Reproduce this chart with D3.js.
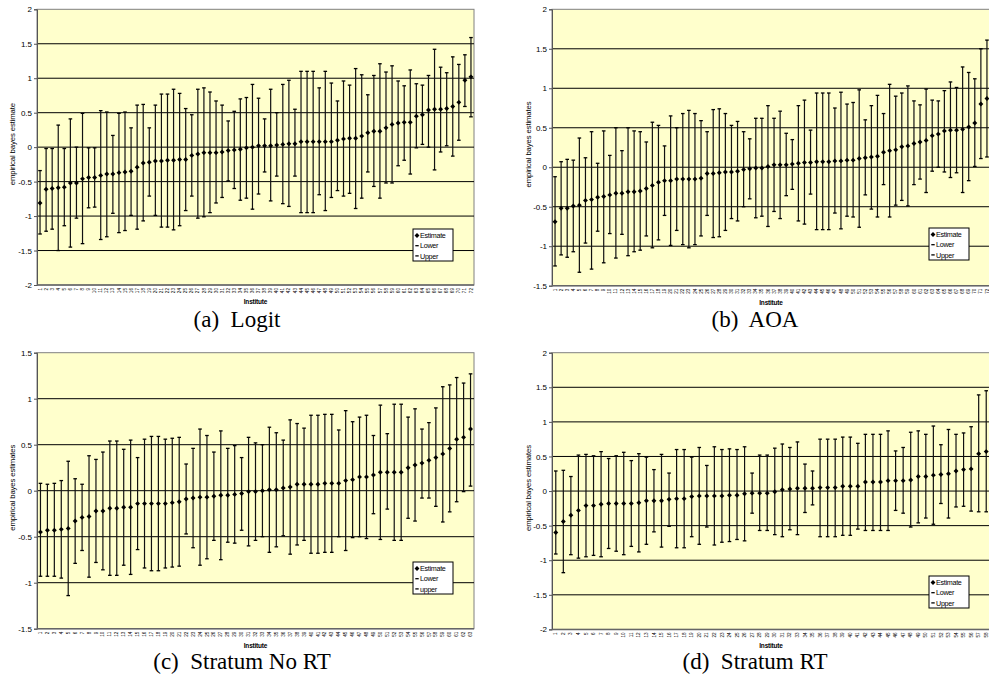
<!DOCTYPE html>
<html>
<head>
<meta charset="utf-8">
<script src="https://cdn.jsdelivr.net/npm/d3@7"></script>
<style>
  body { margin: 0; background: #fff; }
  svg { display: block; }
</style>
</head>
<body>
<svg id="chart" width="989" height="680"></svg>
<script>
// ---- (a) Logit ----
const logitInst = d3.range(1, 73).map(String);
const logitEst = [-0.81,-0.61,-0.60,-0.59,-0.58,-0.52,-0.52,-0.46,-0.44,-0.44,-0.41,-0.39,-0.39,-0.37,-0.36,-0.35,-0.29,-0.23,-0.22,-0.20,-0.20,-0.19,-0.19,-0.18,-0.18,-0.12,-0.10,-0.08,-0.08,-0.08,-0.07,-0.05,-0.04,-0.03,-0.01,0.00,0.02,0.02,0.02,0.03,0.04,0.05,0.05,0.08,0.08,0.08,0.08,0.08,0.08,0.10,0.12,0.13,0.13,0.16,0.21,0.23,0.23,0.28,0.33,0.35,0.36,0.36,0.45,0.47,0.54,0.55,0.55,0.56,0.59,0.65,0.97,1.02];
const logitUpper = [-0.34,-0.02,-0.02,0.32,-0.02,0.41,0.00,0.49,-0.01,-0.01,0.53,0.51,0.17,0.49,0.51,0.28,0.61,0.62,0.28,0.61,0.77,0.77,0.84,0.78,0.56,0.47,0.84,0.86,0.80,0.67,0.61,0.38,0.52,0.70,0.72,0.91,0.71,0.41,0.84,0.50,0.91,0.97,0.55,1.10,1.10,1.10,0.86,1.10,0.93,0.67,0.96,0.90,1.14,1.05,0.76,1.04,1.21,1.09,1.18,0.96,0.89,1.12,0.92,0.90,1.04,1.42,1.16,1.08,1.31,1.20,1.34,1.59];
const logitLower = [-1.26,-1.22,-1.19,-1.50,-1.14,-1.45,-1.03,-1.40,-0.88,-0.87,-1.34,-1.30,-0.96,-1.24,-1.21,-0.99,-1.19,-1.07,-0.71,-0.99,-1.16,-1.16,-1.20,-1.14,-0.92,-0.71,-1.03,-1.01,-0.95,-0.81,-0.73,-0.49,-0.60,-0.77,-0.74,-0.90,-0.68,-0.36,-0.78,-0.42,-0.82,-0.86,-0.42,-0.95,-0.95,-0.95,-0.69,-0.92,-0.73,-0.63,-0.71,-0.67,-0.89,-0.74,-0.36,-0.57,-0.74,-0.52,-0.52,-0.27,-0.19,-0.39,-0.01,0.04,0.00,-0.33,-0.07,0.02,-0.13,0.10,0.59,0.44];

// ---- (b) AOA ----
const aoaInst = d3.range(1, 73).map(String);
const aoaEst = [-0.69,-0.52,-0.52,-0.49,-0.48,-0.42,-0.41,-0.38,-0.37,-0.35,-0.33,-0.33,-0.31,-0.31,-0.30,-0.27,-0.23,-0.19,-0.17,-0.17,-0.15,-0.15,-0.15,-0.15,-0.14,-0.08,-0.08,-0.07,-0.06,-0.06,-0.05,-0.03,-0.02,-0.01,-0.01,0.01,0.03,0.03,0.03,0.04,0.05,0.06,0.06,0.07,0.07,0.07,0.08,0.08,0.09,0.09,0.11,0.12,0.13,0.14,0.19,0.21,0.22,0.26,0.27,0.30,0.32,0.34,0.40,0.42,0.46,0.47,0.47,0.48,0.51,0.56,0.80,0.87];
const aoaUpper = [-0.12,0.07,0.10,0.09,0.37,0.12,0.45,0.05,0.46,0.15,0.50,0.21,0.50,0.46,0.45,0.32,0.57,0.53,0.27,0.65,0.50,0.68,0.72,0.68,0.59,0.45,0.73,0.74,0.68,0.53,0.58,0.45,0.36,0.62,0.62,0.78,0.62,0.71,0.43,0.35,0.78,0.85,0.47,0.94,0.94,0.94,0.75,0.95,0.80,0.82,0.98,0.60,0.78,0.91,0.68,1.05,0.90,0.94,1.03,0.84,0.79,0.99,0.85,0.84,0.97,1.08,1.01,1.27,1.20,1.12,1.50,1.61];
const aoaLower = [-1.25,-1.11,-1.14,-1.07,-1.33,-0.96,-1.29,-0.81,-1.21,-0.84,-1.15,-0.85,-1.12,-1.07,-1.05,-0.87,-1.02,-0.92,-0.61,-0.99,-0.80,-0.98,-1.02,-0.98,-0.87,-0.61,-0.89,-0.88,-0.80,-0.65,-0.68,-0.50,-0.40,-0.64,-0.62,-0.75,-0.56,-0.65,-0.36,-0.28,-0.68,-0.72,-0.34,-0.79,-0.79,-0.79,-0.58,-0.78,-0.62,-0.63,-0.76,-0.35,-0.53,-0.63,-0.22,-0.63,-0.48,-0.42,-0.49,-0.22,-0.15,-0.32,-0.05,0.00,-0.06,-0.13,-0.07,-0.32,-0.17,0.01,0.11,0.13];

// ---- (c) Stratum No RT ----
const noRtInst = d3.range(1, 64).map(String);
const noRtEst = [-0.45,-0.43,-0.43,-0.42,-0.41,-0.33,-0.29,-0.28,-0.22,-0.22,-0.19,-0.19,-0.18,-0.18,-0.14,-0.14,-0.14,-0.14,-0.14,-0.13,-0.12,-0.09,-0.08,-0.07,-0.07,-0.06,-0.05,-0.05,-0.04,-0.03,-0.01,-0.01,0.00,0.01,0.01,0.03,0.04,0.07,0.07,0.07,0.07,0.08,0.08,0.08,0.11,0.12,0.15,0.15,0.17,0.20,0.20,0.20,0.20,0.25,0.28,0.30,0.33,0.36,0.40,0.46,0.56,0.58,0.67];
const noRtUpper = [0.08,0.07,0.08,0.11,0.32,0.13,0.07,0.38,0.34,0.42,0.54,0.54,0.45,0.55,0.36,0.56,0.59,0.59,0.56,0.57,0.58,0.29,0.46,0.67,0.60,0.42,0.65,0.46,0.49,0.36,0.58,0.52,0.50,0.69,0.63,0.55,0.77,0.73,0.68,0.82,0.82,0.83,0.83,0.66,0.87,0.75,0.80,0.82,0.60,0.93,0.62,0.94,0.94,0.80,0.89,0.67,0.74,0.90,1.13,1.15,1.23,1.17,1.27];
const noRtLower = [-0.93,-0.93,-0.93,-0.95,-1.14,-0.79,-0.65,-0.94,-0.78,-0.86,-0.92,-0.92,-0.81,-0.91,-0.64,-0.84,-0.87,-0.87,-0.84,-0.83,-0.82,-0.47,-0.62,-0.81,-0.74,-0.54,-0.75,-0.56,-0.57,-0.43,-0.60,-0.54,-0.50,-0.67,-0.61,-0.49,-0.69,-0.59,-0.54,-0.68,-0.68,-0.67,-0.67,-0.50,-0.65,-0.51,-0.50,-0.52,-0.25,-0.53,-0.20,-0.54,-0.54,-0.30,-0.33,-0.08,-0.08,-0.17,-0.34,-0.23,-0.12,-0.01,0.05];

// ---- (d) Stratum RT ----
const rtInst = d3.range(1, 59).map(String);
const rtEst = [-0.60,-0.44,-0.35,-0.28,-0.21,-0.21,-0.19,-0.18,-0.18,-0.18,-0.18,-0.17,-0.14,-0.14,-0.14,-0.12,-0.11,-0.11,-0.08,-0.07,-0.07,-0.07,-0.07,-0.06,-0.06,-0.04,-0.03,-0.03,-0.03,-0.01,0.02,0.03,0.04,0.04,0.04,0.05,0.05,0.05,0.07,0.07,0.07,0.13,0.13,0.13,0.15,0.15,0.15,0.16,0.21,0.21,0.23,0.24,0.25,0.29,0.31,0.32,0.54,0.57];
const rtUpper = [0.29,0.30,0.21,0.52,0.53,0.51,0.57,0.47,0.51,0.56,0.44,0.54,0.49,0.31,0.53,0.26,0.60,0.60,0.49,0.63,0.37,0.64,0.60,0.61,0.60,0.64,0.26,0.52,0.52,0.62,0.68,0.63,0.71,0.39,0.29,0.75,0.75,0.75,0.78,0.78,0.69,0.82,0.82,0.82,0.87,0.58,0.63,0.85,0.87,0.82,0.94,0.67,0.89,0.82,0.84,0.93,1.39,1.45];
const rtLower = [-0.91,-1.18,-0.92,-0.97,-0.95,-0.93,-0.95,-0.83,-0.87,-0.92,-0.80,-0.88,-0.77,-0.59,-0.81,-0.51,-0.82,-0.82,-0.66,-0.77,-0.52,-0.78,-0.74,-0.73,-0.70,-0.72,-0.32,-0.57,-0.57,-0.63,-0.66,-0.56,-0.63,-0.31,-0.20,-0.66,-0.66,-0.66,-0.64,-0.64,-0.55,-0.57,-0.57,-0.57,-0.57,-0.28,-0.32,-0.52,-0.46,-0.39,-0.48,-0.18,-0.39,-0.23,-0.22,-0.29,-0.30,-0.30];

const panels = [
  { inst: logitInst, est: logitEst, lower: logitLower, upper: logitUpper,
    x0: 37, x1: 474, y0: 9.3, y1: 285, domain: [-2, 2], yTitle: "empirical bayes estimate",
    titleX: 12.5, caption: "(a)  Logit", capX: 237, capY: 327, legend: [413, 229], upperWord: "Upper" },
  { inst: aoaInst, est: aoaEst, lower: aoaLower, upper: aoaUpper,
    x0: 552, x1: 990, y0: 9.3, y1: 285.7, domain: [-1.5, 2], yTitle: "empirical bayes estimates",
    titleX: 528, caption: "(b)  AOA", capX: 755, capY: 327, legend: [929, 228], upperWord: "Upper" },
  { inst: noRtInst, est: noRtEst, lower: noRtLower, upper: noRtUpper,
    x0: 37, x1: 474, y0: 352.7, y1: 628.7, domain: [-1.5, 1.5], yTitle: "empirical bayes estimates",
    titleX: 12.5, caption: "(c)  Stratum No RT", capX: 242, capY: 669, legend: [413, 562], upperWord: "upper" },
  { inst: rtInst, est: rtEst, lower: rtLower, upper: rtUpper,
    x0: 552, x1: 990, y0: 352.7, y1: 629.4, domain: [-2, 2], yTitle: "empirical bayes estimates",
    titleX: 528, caption: "(d)  Stratum RT", capX: 755, capY: 669, legend: [929, 576], upperWord: "Upper" }
];

const svg = d3.select("#chart");
const sans = "Liberation Sans, Arial, sans-serif";

panels.forEach(p => {
  const g = svg.append("g");
  const x = d3.scaleBand().domain(p.inst.map((d, i) => i)).range([p.x0, p.x1]);
  const y = d3.scaleLinear().domain(p.domain).range([p.y1, p.y0]);
  const ticks = d3.range(p.domain[0], p.domain[1] + 0.001, 0.5);

  g.append("rect")
    .attr("x", p.x0).attr("y", p.y0)
    .attr("width", p.x1 - p.x0).attr("height", p.y1 - p.y0)
    .attr("fill", "#ffffcc").attr("stroke", "#808080").attr("stroke-width", 1);

  g.append("g").selectAll("line")
    .data(ticks.slice(1, -1))
    .join("line")
    .attr("x1", p.x0).attr("x2", p.x1)
    .attr("y1", d => y(d)).attr("y2", d => y(d))
    .attr("stroke", "#000").attr("stroke-width", 1);

  const yAxis = g.append("g")
    .attr("transform", `translate(${p.x0},0)`)
    .call(d3.axisLeft(y).tickValues(ticks).tickSize(3).tickPadding(2).tickFormat(d => String(d)));
  yAxis.select(".domain").attr("stroke", "#555");
  yAxis.selectAll(".tick line").attr("stroke", "#555");
  yAxis.selectAll("text").attr("font-family", sans).attr("font-size", 8).attr("fill", "#000");

  g.append("line")
    .attr("x1", p.x0).attr("x2", p.x1).attr("y1", p.y1).attr("y2", p.y1)
    .attr("stroke", "#666").attr("stroke-width", 1.5);

  // error bars
  const cx = i => x(i) + x.bandwidth() / 2;
  const idx = d3.range(p.est.length);
  g.append("g").selectAll("line")
    .data(idx)
    .join("line")
    .attr("x1", cx).attr("x2", cx)
    .attr("y1", i => y(p.lower[i])).attr("y2", i => y(p.upper[i]))
    .attr("stroke", "#111").attr("stroke-width", 1.2);

  const caps = g.append("g").attr("stroke", "#000").attr("stroke-width", 1.3);
  [p.lower, p.upper].forEach(arr => {
    caps.append("g").selectAll("line")
      .data(idx)
      .join("line")
      .attr("x1", i => cx(i) - 1.8).attr("x2", i => cx(i) + 1.8)
      .attr("y1", i => y(arr[i])).attr("y2", i => y(arr[i]));
  });

  const diamond = d3.symbol().type(d3.symbolSquare).size(12);
  g.append("g").selectAll("path")
    .data(idx)
    .join("path")
    .attr("d", diamond)
    .attr("transform", i => `translate(${cx(i)},${y(p.est[i])}) rotate(45)`)
    .attr("fill", "#000");

  // x labels
  g.append("g").selectAll("text")
    .data(idx)
    .join("text")
    .attr("transform", i => `translate(${cx(i) + 1.6},${p.y1 + 3}) rotate(-90)`)
    .attr("text-anchor", "end")
    .attr("font-family", sans).attr("font-size", 4.6)
    .text(i => p.inst[i]);

  g.append("text")
    .attr("x", (p.x0 + p.x1) / 2).attr("y", p.y1 + 19)
    .attr("text-anchor", "middle")
    .attr("font-family", sans).attr("font-size", 6.5).attr("font-weight", "bold")
    .attr("letter-spacing", -0.2)
    .text("Institute");

  g.append("text")
    .attr("transform", `translate(${p.titleX + 2.5},${(p.y0 + p.y1) / 2 - 3}) rotate(-90)`)
    .attr("text-anchor", "middle")
    .attr("font-family", sans).attr("font-size", 7.8)
    .attr("letter-spacing", -0.15)
    .text(p.yTitle);

  // legend
  const [lx, ly] = p.legend;
  const lg = g.append("g").attr("transform", `translate(${lx},${ly})`);
  lg.append("rect").attr("width", 40).attr("height", 32)
    .attr("fill", "#fff").attr("stroke", "#000").attr("stroke-width", 1);
  const items = ["Estimate", "Lower", p.upperWord];
  items.forEach((t, k) => {
    const yy = 6.5 + k * 10.2;
    if (k === 0) {
      lg.append("path").attr("d", diamond)
        .attr("transform", `translate(4,${yy}) rotate(45)`).attr("fill", "#000");
    } else {
      lg.append("line").attr("x1", 2.3).attr("x2", 5.7).attr("y1", yy).attr("y2", yy)
        .attr("stroke", "#000").attr("stroke-width", 1.3);
    }
    lg.append("text").attr("x", 7).attr("y", yy + 2.6)
      .attr("font-family", sans).attr("font-size", 7.2).attr("letter-spacing", -0.3)
      .text(t);
  });

  svg.append("text")
    .attr("x", p.capX).attr("y", p.capY)
    .attr("text-anchor", "middle")
    .attr("font-family", "Liberation Serif, Times New Roman, serif")
    .attr("font-size", 23)
    .text(p.caption)
    .style("white-space", "pre");
});
</script>
</body>
</html>
